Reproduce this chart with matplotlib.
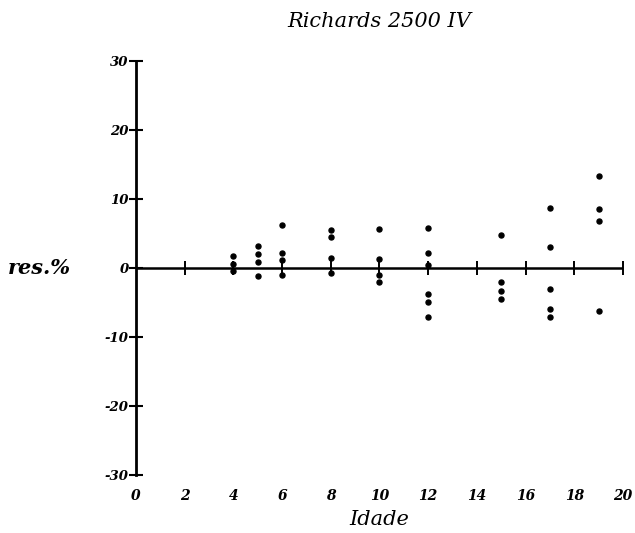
import numpy as np
import matplotlib
matplotlib.use("Agg")
import matplotlib.pyplot as plt

# residuals (%) by age
idade = [4, 4, 4,
         5, 5, 5, 5,
         6, 6, 6, 6,
         8, 8, 8, 8,
         10, 10, 10, 10,
         12, 12, 12, 12, 12, 12,
         15, 15, 15, 15,
         17, 17, 17, 17, 17,
         19, 19, 19, 19]
res = [1.7, 0.5, -0.5,
       3.1, 2.0, 0.9, -1.2,
       6.2, 2.2, 1.1, -1.0,
       5.5, 4.5, 1.4, -0.7,
       5.6, 1.3, -1.0, -2.0,
       5.7, 2.2, 0.4, -3.8, -5.0, -7.1,
       4.8, -2.0, -3.3, -4.5,
       8.6, 3.0, -3.0, -5.9, -7.1,
       13.3, 8.5, 6.8, -6.2]

xticks = list(range(0, 21, 2))
yticks = [-30, -20, -10, 0, 10, 20, 30]

fam = "DejaVu Serif"

fig = plt.figure(figsize=(6.35, 5.33), dpi=100)
ax = fig.add_axes([0.214, 0.109, 0.767, 0.777])
ax.set_xlim(0, 20)
ax.set_ylim(-30, 30)

ax.spines["top"].set_visible(False)
ax.spines["right"].set_visible(False)
ax.spines["bottom"].set_visible(False)
ax.spines["left"].set_position(("data", 0))
ax.spines["left"].set_linewidth(2.0)
ax.spines["left"].set_bounds(-30, 30)

ax.set_yticks(yticks)
ax.set_yticklabels([str(v) for v in yticks], fontfamily=fam, fontstyle="italic",
                   fontweight="bold", fontsize=9.5)
ax.tick_params(axis="y", direction="inout", length=10, width=1.5, pad=0)

ax.set_xticks(xticks)
ax.set_xticklabels([str(v) for v in xticks], fontfamily=fam, fontstyle="italic",
                   fontweight="bold", fontsize=10)
ax.tick_params(axis="x", length=0, pad=10)

# zero line with its own crossing ticks
ax.axhline(0, color="black", lw=1.8, xmin=0, xmax=1)
ax.plot(xticks[1:], np.zeros(len(xticks) - 1), "|", color="black", ms=10, mew=1.4)

ax.plot(idade, res, "o", color="black", ms=3.6, ls="none")

ax.set_title("Richards 2500 IV", fontfamily=fam, fontstyle="italic", fontsize=15, pad=24)
ax.set_xlabel("Idade", fontfamily=fam, fontstyle="italic", fontsize=15, labelpad=5)
ax.text(-0.262, 0.5, "res.%", transform=ax.transAxes, fontfamily=fam,
        fontstyle="italic", fontweight="bold", fontsize=15, ha="left", va="center")

fig.savefig("out.png", dpi=100)
